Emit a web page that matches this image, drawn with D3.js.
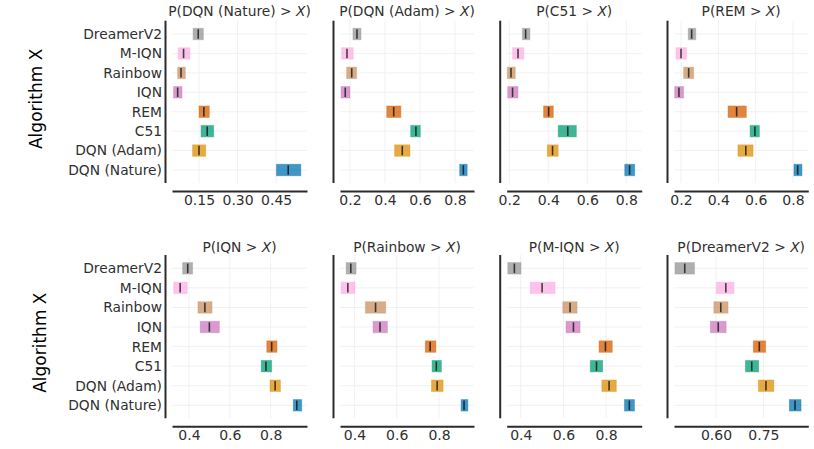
<!DOCTYPE html>
<html>
<head>
<meta charset="utf-8">
<script src="https://cdn.jsdelivr.net/npm/d3@7"></script>
<style>
  html, body { margin: 0; padding: 0; background: #ffffff; }
  svg { display: block; font-family: "DejaVu Sans", sans-serif; }
</style>
</head>
<body>
<svg id="chart" width="814" height="449"></svg>
<script>
// ---------------- DATA ----------------
const algorithms = ["DreamerV2", "M-IQN", "Rainbow", "IQN", "REM", "C51", "DQN (Adam)", "DQN (Nature)"];
const comparisons = ["DQN (Nature)", "DQN (Adam)", "C51", "REM", "IQN", "Rainbow", "M-IQN", "DreamerV2"];
const algColors = ["#949494", "#fbafe4", "#ca9161", "#cc78bc", "#d55e00", "#029e73", "#de8f05", "#0173b2"];

// point estimates P(comparison > X), one row per panel, columns ordered as `algorithms`
const pointEstimates = [
  [0.147, 0.090, 0.080, 0.067, 0.169, 0.182, 0.150, 0.497],
  [0.240, 0.183, 0.210, 0.173, 0.450, 0.577, 0.499, 0.848],
  [0.284, 0.245, 0.209, 0.217, 0.402, 0.500, 0.422, 0.817],
  [0.257, 0.200, 0.241, 0.189, 0.498, 0.596, 0.547, 0.825],
  [0.394, 0.357, 0.478, 0.500, 0.805, 0.777, 0.822, 0.928],
  [0.383, 0.369, 0.500, 0.521, 0.758, 0.787, 0.791, 0.918],
  [0.370, 0.500, 0.631, 0.647, 0.797, 0.755, 0.814, 0.909],
  [0.501, 0.631, 0.615, 0.607, 0.737, 0.713, 0.758, 0.850]
];
const ciLower = [
  [0.127, 0.069, 0.067, 0.051, 0.150, 0.158, 0.125, 0.451],
  [0.217, 0.152, 0.181, 0.149, 0.410, 0.547, 0.455, 0.827],
  [0.267, 0.217, 0.190, 0.192, 0.376, 0.451, 0.395, 0.792],
  [0.239, 0.173, 0.214, 0.166, 0.452, 0.570, 0.505, 0.805],
  [0.369, 0.325, 0.444, 0.455, 0.781, 0.754, 0.797, 0.911],
  [0.361, 0.337, 0.452, 0.488, 0.735, 0.767, 0.764, 0.904],
  [0.339, 0.444, 0.597, 0.612, 0.767, 0.726, 0.780, 0.886],
  [0.470, 0.601, 0.593, 0.582, 0.718, 0.693, 0.734, 0.832]
];
const ciUpper = [
  [0.167, 0.115, 0.097, 0.084, 0.190, 0.207, 0.176, 0.546],
  [0.263, 0.219, 0.238, 0.200, 0.491, 0.602, 0.543, 0.870],
  [0.306, 0.275, 0.231, 0.245, 0.426, 0.544, 0.451, 0.843],
  [0.279, 0.230, 0.268, 0.214, 0.550, 0.620, 0.586, 0.848],
  [0.418, 0.392, 0.513, 0.549, 0.831, 0.805, 0.848, 0.952],
  [0.408, 0.403, 0.548, 0.556, 0.785, 0.811, 0.819, 0.936],
  [0.401, 0.561, 0.664, 0.678, 0.829, 0.784, 0.848, 0.933],
  [0.532, 0.657, 0.638, 0.632, 0.757, 0.735, 0.783, 0.869]
];
const xDomains = [
  [0.045, 0.570], [0.143, 0.909], [0.187, 0.879], [0.1625, 0.882],
  [0.317, 0.978], [0.332, 0.965], [0.334, 0.967], [0.467, 0.892]
];
const xTickValues = [
  [0.15, 0.30, 0.45], [0.2, 0.4, 0.6, 0.8], [0.2, 0.4, 0.6, 0.8], [0.2, 0.4, 0.6, 0.8],
  [0.4, 0.6, 0.8], [0.4, 0.6, 0.8], [0.4, 0.6, 0.8], [0.60, 0.75]
];
const xTickLabels = [
  ["0.15", "0.30", "0.45"], ["0.2", "0.4", "0.6", "0.8"], ["0.2", "0.4", "0.6", "0.8"], ["0.2", "0.4", "0.6", "0.8"],
  ["0.4", "0.6", "0.8"], ["0.4", "0.6", "0.8"], ["0.4", "0.6", "0.8"], ["0.60", "0.75"]
];
const yAxisTitle = "Algorithm X";

// ---------------- LAYOUT ----------------
const svg = d3.select("#chart");
const colRanges = [[172, 307], [340, 474], [506.7, 641.7], [674, 808.3]];
const spineGap = 6.5;
const rowsLayout = [
  { top: 20.7, bottom: 183, axisY: 191, titleY: 15.5 },
  { top: 255, bottom: 418.3, axisY: 426.3, titleY: 251.5 }
];
const textColor = "#303030";
const spineColor = "#2b2b2b";
const gridColor = "#f1f1f1";

comparisons.forEach((comp, p) => {
  const r = Math.floor(p / 4), c = p % 4;
  const L = rowsLayout[r];
  const [x0, x1] = colRanges[c];
  const x = d3.scaleLinear().domain(xDomains[p]).range([x0, x1]);
  const y = d3.scalePoint().domain(algorithms).range([L.top + 13.3, L.bottom - 13]);
  const g = svg.append("g");

  // grid
  g.selectAll(".hgrid").data(algorithms).join("line")
    .attr("x1", x0).attr("x2", x1)
    .attr("y1", d => y(d)).attr("y2", d => y(d))
    .attr("stroke", gridColor).attr("stroke-width", 1);
  g.selectAll(".vgrid").data(xTickValues[p]).join("line")
    .attr("x1", d => x(d)).attr("x2", d => x(d))
    .attr("y1", L.top).attr("y2", L.bottom)
    .attr("stroke", gridColor).attr("stroke-width", 1);

  // bars (CIs)
  const bh = 11.5;
  g.selectAll(".ci").data(algorithms).join("rect")
    .attr("x", (d, i) => x(ciLower[p][i]))
    .attr("width", (d, i) => x(ciUpper[p][i]) - x(ciLower[p][i]))
    .attr("y", d => y(d) - bh / 2)
    .attr("height", bh)
    .attr("fill", (d, i) => algColors[i])
    .attr("fill-opacity", 0.75)
    .attr("stroke", (d, i) => algColors[i])
    .attr("stroke-opacity", 0.35)
    .attr("stroke-width", 1);

  // point estimates
  g.selectAll(".pt").data(algorithms).join("line")
    .attr("x1", (d, i) => x(pointEstimates[p][i]))
    .attr("x2", (d, i) => x(pointEstimates[p][i]))
    .attr("y1", d => y(d) - bh / 2 + 1)
    .attr("y2", d => y(d) + bh / 2 - 1)
    .attr("stroke", "#000").attr("stroke-opacity", 0.7).attr("stroke-width", 1.6);

  // x axis
  const xa = g.append("g").attr("transform", `translate(0,${L.axisY})`)
    .call(d3.axisBottom(x).tickValues(xTickValues[p])
      .tickFormat((d, i) => xTickLabels[p][i]).tickSize(0).tickPadding(4));
  xa.select(".domain").attr("stroke", spineColor).attr("stroke-width", 2);
  xa.selectAll("text").attr("font-size", 14).attr("fill", textColor)
    .attr("font-family", "DejaVu Sans, sans-serif");

  // y spine
  g.append("line")
    .attr("x1", x0 - spineGap).attr("x2", x0 - spineGap)
    .attr("y1", L.top).attr("y2", L.bottom)
    .attr("stroke", spineColor).attr("stroke-width", 2);

  if (c === 0) {
    const ya = g.append("g").attr("transform", `translate(${x0 - 10},0)`)
      .call(d3.axisLeft(y).tickSize(0).tickPadding(0));
    ya.select(".domain").remove();
    ya.selectAll("text").attr("font-size", 13.8).attr("fill", textColor)
      .attr("font-family", "DejaVu Sans, sans-serif");

    svg.append("text")
      .attr("transform", `translate(${r === 0 ? 42 : 46},${(L.top + L.bottom) / 2 + (r === 0 ? -3 : 6)}) rotate(-90)`)
      .attr("text-anchor", "middle")
      .attr("font-size", 17).attr("fill", "#000")
      .text(yAxisTitle);
  }

  // title
  const t = g.append("text")
    .attr("x", (x0 + x1) / 2).attr("y", L.titleY)
    .attr("text-anchor", "middle")
    .attr("font-size", 13.8).attr("fill", textColor);
  t.append("tspan").text(`P(${comp} > `);
  t.append("tspan").attr("font-style", "italic").text("X");
  t.append("tspan").text(")");
});
</script>
</body>
</html>
